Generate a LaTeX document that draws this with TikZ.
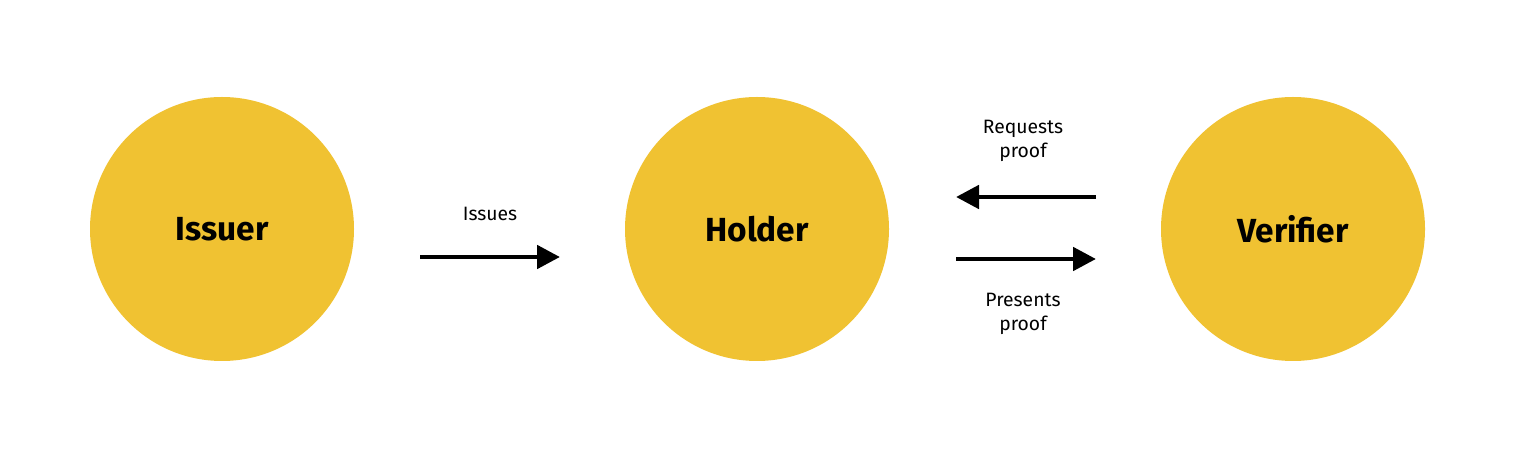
\documentclass[tikz,border=0pt]{standalone}
\usepackage{fontspec}
\setmainfont{Fira Sans}
\usetikzlibrary{arrows.meta}
\definecolor{roleyellow}{HTML}{F0C232}
\tikzstyle{role}=[circle,fill=roleyellow,minimum size=5.28cm,inner sep=0pt,font=\fontsize{19}{22}\selectfont\bfseries]
\tikzstyle{flow}=[line width=2.8pt,-{Triangle[length=0.46cm,width=0.46cm]}]
\tikzstyle{tag}=[align=center,font=\fontsize{11}{14}\selectfont]

\begin{document}
\begin{tikzpicture}
\useasboundingbox (0,0) rectangle (30.34,9.18);
\node [role] (issuer) at (4.44,4.6) {Issuer};
\node [role] (holder) at (15.14,4.6) {Holder};
\node [role] (verifier) at (25.86,4.6) {Verifier};
% arrow ends
\coordinate (i1) at (8.4,4.04);
\coordinate (i2) at (11.2,4.04);
\coordinate (r1) at (21.92,5.24);
\coordinate (r2) at (19.12,5.24);
\coordinate (p1) at (19.12,4.0);
\coordinate (p2) at (21.92,4.0);
\draw [flow] (i1) -- (i2);
\draw [flow] (r1) -- (r2);
\draw [flow] (p1) -- (p2);
\node [tag] (issues) at (9.8,4.9) {Issues};
\node [tag] (requests) at (20.46,6.36) {Requests\\proof};
\node [tag] (presents) at (20.46,2.9) {Presents\\proof};
\end{tikzpicture}
\end{document}
